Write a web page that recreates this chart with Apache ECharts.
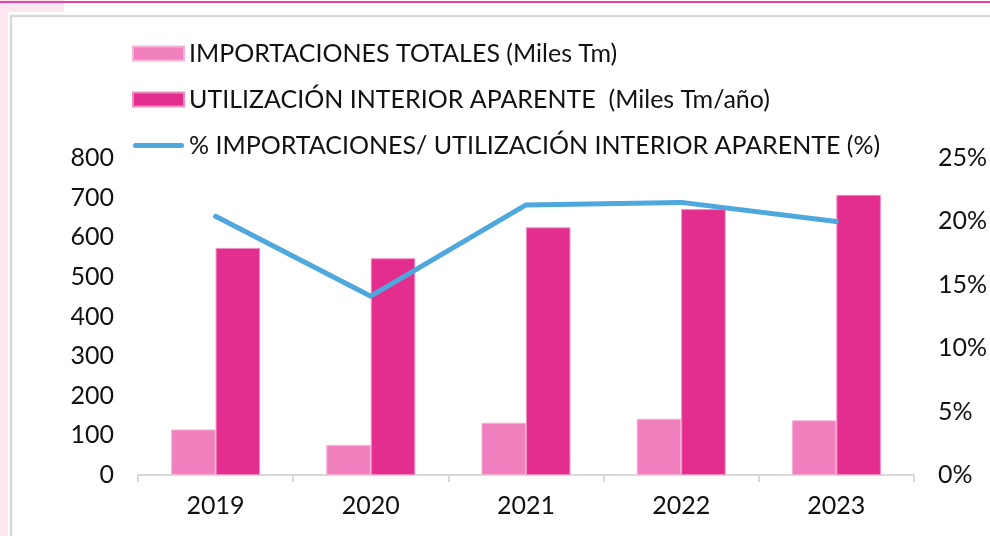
<!DOCTYPE html>
<html>
<head>
<meta charset="utf-8">
<script src="https://cdn.jsdelivr.net/npm/echarts@6/dist/echarts.min.js"></script>
<style>
  html, body { margin: 0; padding: 0; background: #fff; }
  #chart { width: 990px; height: 536px; }
</style>
</head>
<body>
<div id="chart"></div>
<script>
// datos
const years = ['2019', '2020', '2021', '2022', '2023']
const importaciones = [115, 76, 132, 142, 138]          // Miles Tm
const utilizacion = [573, 547, 625, 671, 707]           // Miles Tm/año
const porcentaje = [0.204, 0.141, 0.213, 0.215, 0.200]  // ratio

const FONT = 'Lato'
const FS = 25
const TXT = '#111'
const chart = echarts.init(document.getElementById('chart'))

const option = {
    backgroundColor: '#fff',
    textStyle: { fontFamily: FONT },
    animation: false,
    // marco rosa / gris
    graphic: [
        { type: 'rect', left: 0, top: 0, shape: { width: 8, height: 536 }, style: { fill: '#fce6f0' }, silent: true },
        { type: 'rect', left: 0, top: 0, shape: { width: 64, height: 12 }, style: { fill: '#fce6f0' }, silent: true },
        { type: 'rect', left: 0, top: 1, shape: { width: 990, height: 2 }, style: { fill: '#e8419f' }, silent: true },
        {
            type: 'rect', left: 8.5, top: 13.5, shape: { width: 1000, height: 600 },
            style: { fill: 'none', stroke: '#d9d9d9', lineWidth: 2.5 }, silent: true
        }
    ],
    legend: {
        orient: 'vertical',
        left: 132,
        top: 41,
        padding: 0,
        itemWidth: 51,
        itemHeight: 14,
        itemGap: 21,
        textStyle: { fontFamily: FONT, fontSize: FS, color: TXT, lineHeight: 25 },
        data: [
            { name: 'IMPORTACIONES TOTALES (Miles Tm)', icon: 'rect' },
            { name: 'UTILIZACIÓN INTERIOR APARENTE  (Miles Tm/año)', icon: 'rect' },
            {
                name: '% IMPORTACIONES/ UTILIZACIÓN INTERIOR APARENTE (%)',
                icon: 'path://M2.5,0 L48.5,0 A2.5,2.5 0 0 1 48.5,5 L2.5,5 A2.5,2.5 0 0 1 2.5,0 Z',
                itemStyle: { color: '#4ea7dd', borderWidth: 0 }
            }
        ]
    },
    grid: { left: 138, right: 75, top: 158, bottom: 61 },
    xAxis: {
        type: 'category',
        data: years,
        axisLine: { lineStyle: { color: '#d9d9d9', width: 2 } },
        axisTick: { show: true, length: 7, lineStyle: { color: '#d9d9d9', width: 2 } },
        axisLabel: { fontFamily: FONT, fontSize: FS, color: TXT, margin: 18 }
    },
    yAxis: [
        {
            type: 'value',
            min: 0, max: 800, interval: 100,
            splitLine: { show: false },
            axisLine: { show: false },
            axisLabel: { fontFamily: FONT, fontSize: FS, color: TXT, margin: 24 }
        },
        {
            type: 'value',
            min: 0, max: 0.25, interval: 0.05,
            splitLine: { show: false },
            axisLine: { show: false },
            axisLabel: {
                fontFamily: FONT, fontSize: FS, color: TXT, margin: 24,
                formatter: v => Math.round(v * 100) + '%'
            }
        }
    ],
    series: [
        {
            name: 'IMPORTACIONES TOTALES (Miles Tm)',
            type: 'bar',
            data: importaciones,
            barWidth: 44.5,
            barGap: '0%',
            itemStyle: { color: '#ef80bd', borderColor: '#f6b3d6', borderWidth: 1 }
        },
        {
            name: 'UTILIZACIÓN INTERIOR APARENTE  (Miles Tm/año)',
            type: 'bar',
            data: utilizacion,
            barWidth: 44.5,
            barGap: '0%',
            itemStyle: { color: '#e32d8f', borderColor: '#f08cc2', borderWidth: 1 }
        },
        {
            name: '% IMPORTACIONES/ UTILIZACIÓN INTERIOR APARENTE (%)',
            type: 'line',
            yAxisIndex: 1,
            data: porcentaje,
            symbol: 'none',
            lineStyle: { color: '#4ea7dd', width: 5, cap: 'round', join: 'round' },
            itemStyle: { color: '#4ea7dd' }
        }
    ]
}

chart.setOption(option)
</script>
</body>
</html>
